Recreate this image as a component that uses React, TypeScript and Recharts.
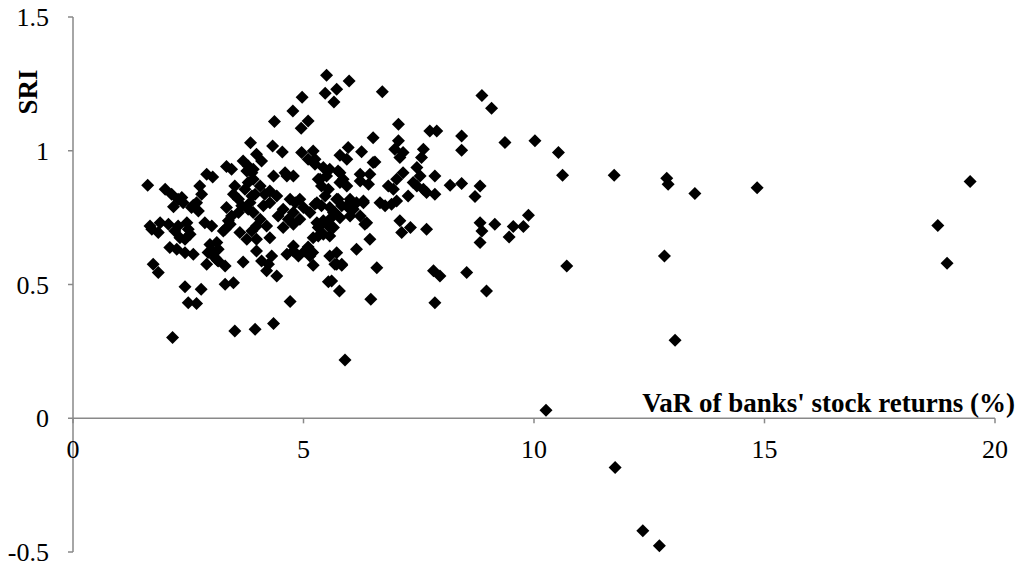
import { ScatterChart, Scatter, XAxis, YAxis, ReferenceLine } from 'recharts';

// VaR of banks' stock returns (%) vs SRI
const lowVarBanks: [number, number][] = [
  [3.33, 0.941], [3.44, 0.931], [2.9, 0.912], [3.03, 0.902], [1.62, 0.871],
  [2.0, 0.856], [2.14, 0.837], [2.28, 0.819], [2.39, 0.806], [2.18, 0.791],
  [2.75, 0.868], [2.79, 0.837], [2.68, 0.806], [2.57, 0.788], [2.72, 0.775],
  [3.33, 0.788], [3.44, 0.756], [3.37, 0.738], [1.67, 0.719], [1.89, 0.731],
  [2.07, 0.725], [2.28, 0.719], [2.47, 0.731], [2.86, 0.731], [3.01, 0.719],
  [3.3, 0.707], [3.41, 0.725], [1.71, 0.707], [1.85, 0.694], [2.21, 0.7],
  [2.54, 0.688], [2.43, 0.669], [2.32, 0.675], [2.1, 0.638], [2.25, 0.632],
  [2.43, 0.619], [2.61, 0.613], [2.97, 0.65], [3.12, 0.657], [3.01, 0.625],
  [3.15, 0.632], [3.08, 0.6], [2.9, 0.576], [3.3, 0.569], [1.74, 0.576],
  [1.85, 0.545], [2.43, 0.492], [2.78, 0.482], [2.5, 0.432], [2.68, 0.429],
  [3.3, 0.501], [3.48, 0.507], [2.16, 0.302], [3.13, 0.591], [3.15, 0.588],
  [2.36, 0.825], [2.5, 0.707], [2.61, 0.796], [3.26, 0.7], [2.93, 0.62],
];

const midVarBanks: [number, number][] = [
  [4.97, 1.2], [4.77, 1.149], [4.95, 1.084], [4.37, 1.109], [3.85, 1.03],
  [4.33, 1.018], [4.54, 0.995], [3.98, 0.987], [4.09, 0.962], [3.69, 0.962],
  [3.8, 0.943], [4.64, 0.906], [4.78, 0.906], [4.35, 0.906], [3.91, 0.931],
  [4.6, 0.918], [3.91, 0.893], [4.06, 0.868], [3.95, 0.837], [4.16, 0.837],
  [4.27, 0.85], [4.42, 0.831], [4.27, 0.806], [4.13, 0.794], [4.71, 0.819],
  [4.82, 0.806], [4.56, 0.781], [4.45, 0.756], [4.92, 0.744], [4.78, 0.769],
  [4.67, 0.744], [3.84, 0.806], [3.91, 0.769], [4.06, 0.744], [3.98, 0.719],
  [4.2, 0.719], [3.77, 0.924], [3.88, 0.918], [3.51, 0.868], [3.48, 0.837],
  [3.59, 0.819], [3.8, 0.881], [3.73, 0.856], [3.88, 0.831], [3.66, 0.794],
  [3.8, 0.781], [3.59, 0.769], [3.62, 0.694], [3.77, 0.669], [3.88, 0.7],
  [3.98, 0.669], [4.27, 0.675], [3.98, 0.625], [4.09, 0.588], [4.24, 0.576],
  [4.31, 0.607], [4.42, 0.532], [4.2, 0.551], [4.56, 0.713], [4.78, 0.725],
  [4.64, 0.613], [4.78, 0.644], [4.89, 0.607], [4.71, 0.436], [4.35, 0.354],
  [3.95, 0.333], [3.51, 0.326], [3.69, 0.584], [4.78, 0.625], [4.92, 0.819],
];

const highVarBanks: [number, number][] = [
  [5.99, 1.261], [5.47, 1.215], [5.72, 1.23], [5.66, 1.182], [5.5, 1.282],
  [5.1, 1.111], [5.97, 1.012], [6.26, 0.996], [5.21, 0.999], [5.25, 0.968],
  [5.79, 0.983], [5.94, 0.968], [5.43, 0.937], [5.57, 0.931], [5.36, 0.893],
  [5.5, 0.906], [5.79, 0.918], [5.86, 0.893], [6.23, 0.912], [6.23, 0.887],
  [6.51, 0.956], [5.94, 0.794], [6.08, 0.781], [6.3, 0.806], [5.72, 0.819],
  [5.83, 0.794], [5.68, 0.769], [6.15, 0.632], [5.21, 0.572], [5.61, 0.513],
  [5.78, 0.476], [5.72, 0.576], [5.83, 0.572], [5.9, 0.218], [5.54, 0.51],
  [5.1, 0.968], [5.25, 0.95], [5.75, 0.924], [5.32, 0.893], [5.39, 0.868],
  [5.47, 0.831], [5.54, 0.856], [5.29, 0.806], [5.39, 0.794], [5.79, 0.881],
  [5.94, 0.868], [5.75, 0.819], [6.01, 0.819], [6.15, 0.806], [6.3, 0.812],
  [5.14, 0.769], [5.25, 0.8], [5.57, 0.788], [5.65, 0.769], [5.57, 0.744],
  [5.79, 0.75], [6.01, 0.781], [6.01, 0.756], [6.23, 0.756], [6.33, 0.725],
  [5.29, 0.731], [5.43, 0.738], [5.54, 0.719], [5.32, 0.713], [5.03, 0.625],
  [5.14, 0.607], [5.21, 0.675], [5.32, 0.681], [5.43, 0.688], [5.57, 0.681],
  [5.65, 0.713], [5.57, 0.607], [5.72, 0.619], [5.68, 0.576], [5.83, 0.576],
  [5.0, 0.788], [4.96, 0.993], [5.1, 0.64], [5.2, 0.62], [6.44, 0.912],
];

const upperVarBanks: [number, number][] = [
  [6.71, 1.221], [7.06, 1.099], [7.74, 1.074], [7.89, 1.074], [6.51, 1.049],
  [7.06, 1.037], [6.98, 1.006], [7.09, 0.975], [7.16, 0.993], [6.55, 0.958],
  [7.6, 1.006], [7.56, 0.975], [7.16, 0.918], [7.02, 0.893], [6.84, 0.868],
  [6.95, 0.856], [7.46, 0.937], [7.53, 0.906], [7.38, 0.881], [7.46, 0.868],
  [7.6, 0.856], [7.67, 0.844], [7.85, 0.837], [7.85, 0.906], [7.27, 0.831],
  [6.66, 0.806], [6.77, 0.794], [6.91, 0.8], [7.02, 0.812], [7.09, 0.738],
  [7.13, 0.694], [7.32, 0.713], [7.67, 0.707], [6.59, 0.563], [7.82, 0.551],
  [7.96, 0.532], [7.85, 0.432], [6.46, 0.445], [6.44, 0.669], [6.37, 0.731],
  [6.41, 0.875],
];

const extremeVarBanks: [number, number][] = [
  [8.87, 1.207], [9.08, 1.159], [8.43, 1.055], [8.43, 1.002], [9.37, 1.031],
  [10.02, 1.037], [10.53, 0.993], [10.62, 0.908], [11.74, 0.908], [12.88, 0.897],
  [12.91, 0.875], [13.49, 0.84], [14.84, 0.862], [19.46, 0.885], [18.76, 0.721],
  [18.96, 0.579], [9.15, 0.725], [9.55, 0.717], [9.77, 0.717], [9.46, 0.678],
  [9.88, 0.759], [10.71, 0.569], [12.83, 0.607], [13.06, 0.292], [10.26, 0.03],
  [11.76, -0.184], [12.36, -0.421], [12.72, -0.477], [8.18, 0.871], [8.43, 0.878],
  [8.83, 0.868], [8.72, 0.829], [8.83, 0.731], [8.87, 0.7], [8.83, 0.657],
  [8.54, 0.545], [8.97, 0.476],
];

const xTicks = [0, 5, 10, 15, 20];
const yTicks = [-0.5, 0, 0.5, 1, 1.5];

const points = [...lowVarBanks, ...midVarBanks, ...highVarBanks, ...upperVarBanks, ...extremeVarBanks].map(
  ([v, s]) => ({ var: v, sri: s })
);

const serif = '"Liberation Serif", "Times New Roman", serif';
const axisGray = '#898989';

const Diamond = (props: any) => {
  const { cx, cy } = props;
  const r = 6.5;
  return <polygon points={`${cx},${cy - r} ${cx + r},${cy} ${cx},${cy + r} ${cx - r},${cy}`} fill="#000" />;
};

export default function App() {
  return (
    <div style={{ position: 'fixed', left: 0, top: 0, width: 1018, height: 566, background: '#fff' }}>
      <ScatterChart width={1018} height={566} margin={{ top: 17, right: 23, bottom: 14, left: 0 }}>
        <XAxis type="number" dataKey="var" domain={[0, 20]} ticks={xTicks} hide />
        <YAxis
          type="number"
          dataKey="sri"
          domain={[-0.5, 1.5]}
          ticks={yTicks}
          width={73}
          axisLine={{ stroke: axisGray, strokeWidth: 1.5 }}
          tickLine={{ stroke: axisGray, strokeWidth: 1.5 }}
          tickSize={5}
          tickMargin={19}
          tick={{ fill: '#000', fontSize: 26, fontFamily: serif }}
          interval={0}
        />
        <ReferenceLine y={0} stroke={axisGray} strokeWidth={1.5} />
        {xTicks.map(t => (
          <ReferenceLine
            key={t}
            segment={[{ x: t, y: 0 }, { x: t, y: -0.019 }]}
            stroke={axisGray}
            strokeWidth={1.5}
            label={{ value: String(t), position: 'bottom', offset: 16, fill: '#000', fontSize: 26, fontFamily: serif }}
          />
        ))}
        <Scatter data={points} shape={Diamond} isAnimationActive={false} />
      </ScatterChart>
      <div
        style={{
          position: 'absolute',
          right: 3,
          top: 390,
          fontFamily: serif,
          fontWeight: 'bold',
          fontSize: 27,
          lineHeight: '27px',
          whiteSpace: 'nowrap',
        }}
      >
        VaR of banks' stock returns (%)
      </div>
      <div
        style={{
          position: 'absolute',
          left: 28,
          top: 92,
          transform: 'translate(-50%, -50%) rotate(-90deg)',
          fontFamily: serif,
          fontWeight: 'bold',
          fontSize: 27,
          lineHeight: '27px',
          whiteSpace: 'nowrap',
        }}
      >
        SRI
      </div>
    </div>
  );
}
